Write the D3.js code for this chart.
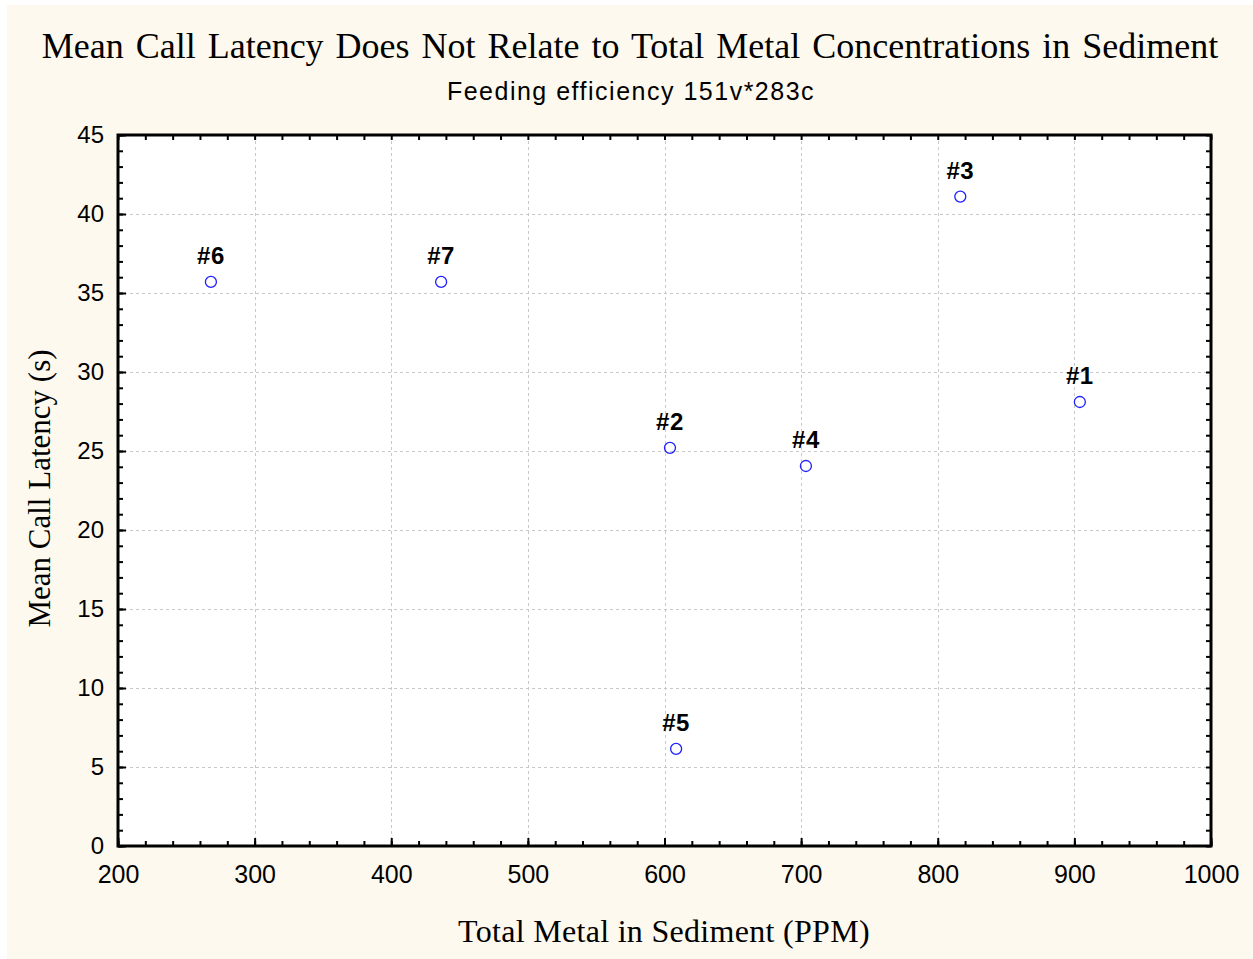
<!DOCTYPE html>
<html>
<head>
<meta charset="utf-8">
<script src="https://cdn.jsdelivr.net/npm/d3@7/dist/d3.min.js"></script>
<style>
  html, body { margin: 0; padding: 0; background: #ffffff; }
  svg { display: block; }
</style>
</head>
<body>
<script>
// Site data: total metal (PPM) vs mean call latency (s)
const siteLabels = ["#1", "#2", "#3", "#4", "#5", "#6", "#7"];
const metalPPM   = [904, 604, 816.5, 703.5, 608.5, 268, 436.5];
const latencySec = [28.1, 25.2, 41.1, 24.05, 6.15, 35.7, 35.7];

const xTicks = [200, 300, 400, 500, 600, 700, 800, 900, 1000];
const yTicks = [0, 5, 10, 15, 20, 25, 30, 35, 40, 45];

const titleText = "Mean Call Latency Does Not Relate to Total Metal Concentrations in Sediment";
const subtitleText = "Feeding efficiency 151v*283c";
const xLabel = "Total Metal in Sediment (PPM)";
const yLabel = "Mean Call Latency (s)";

const W = 1253, H = 959;
const plot = { left: 118, right: 1211, top: 135, bottom: 846 };
const sans = "Liberation Sans, Arial, sans-serif";
const serif = "Liberation Serif, Times New Roman, serif";

const svg = d3.select("body").append("svg").attr("width", W).attr("height", H);

// page background
svg.append("rect").attr("x", 7).attr("y", 5).attr("width", W - 7).attr("height", H - 5)
  .attr("fill", "#fef9ee");

const x = d3.scaleLinear().domain([200, 1000]).range([plot.left, plot.right]);
const y = d3.scaleLinear().domain([0, 45]).range([plot.bottom, plot.top]);

// plot area
svg.append("rect")
  .attr("x", plot.left).attr("y", plot.top)
  .attr("width", plot.right - plot.left).attr("height", plot.bottom - plot.top)
  .attr("fill", "#ffffff");

// dashed grid
const grid = svg.append("g").attr("stroke", "#c8c8c8").attr("stroke-width", 1)
  .attr("stroke-dasharray", "3,3");
grid.selectAll("line.gx").data(xTicks.slice(1, -1)).join("line")
  .attr("x1", d => Math.round(x(d)) + 0.5).attr("x2", d => Math.round(x(d)) + 0.5)
  .attr("y1", plot.top).attr("y2", plot.bottom);
grid.selectAll("line.gy").data(yTicks.slice(1, -1)).join("line")
  .attr("y1", d => Math.round(y(d)) + 0.5).attr("y2", d => Math.round(y(d)) + 0.5)
  .attr("x1", plot.left).attr("x2", plot.right);

// axes with inward ticks
const xMinor = d3.range(200, 1001, 20);
const yMinor = d3.range(0, 46, 1);
const axStyle = g => {
  g.select(".domain").remove();
  g.selectAll(".tick line").attr("stroke", "#000").attr("stroke-width", 2);
};

// minor ticks on all four sides
svg.append("g").attr("transform", `translate(0,${plot.bottom})`)
  .call(d3.axisTop(x).tickValues(xMinor).tickSize(5).tickFormat(""))
  .call(axStyle);
svg.append("g").attr("transform", `translate(0,${plot.top})`)
  .call(d3.axisBottom(x).tickValues(xMinor).tickSize(5).tickFormat(""))
  .call(axStyle);
svg.append("g").attr("transform", `translate(${plot.left},0)`)
  .call(d3.axisRight(y).tickValues(yMinor).tickSize(5).tickFormat(""))
  .call(axStyle);
svg.append("g").attr("transform", `translate(${plot.right},0)`)
  .call(d3.axisLeft(y).tickValues(yMinor).tickSize(5).tickFormat(""))
  .call(axStyle);

// major tick labels
const xAxis = svg.append("g").attr("transform", `translate(0,${plot.bottom})`)
  .call(d3.axisBottom(x).tickValues(xTicks).tickSize(0).tickPadding(19).tickFormat(d3.format("d")));
xAxis.select(".domain").remove();
xAxis.selectAll("text").attr("font-family", sans)
  .attr("font-size", 25).attr("fill", "#000");

const yAxis = svg.append("g").attr("transform", `translate(${plot.left},0)`)
  .call(d3.axisLeft(y).tickValues(yTicks).tickSize(0).tickPadding(14).tickFormat(d3.format("d")));
yAxis.select(".domain").remove();
yAxis.selectAll("text").attr("font-family", sans)
  .attr("font-size", 24).attr("fill", "#000");

// major tick marks (slightly longer)
svg.append("g").attr("transform", `translate(0,${plot.bottom})`)
  .call(d3.axisTop(x).tickValues(xTicks).tickSize(8).tickFormat("")).call(axStyle);
svg.append("g").attr("transform", `translate(${plot.left},0)`)
  .call(d3.axisRight(y).tickValues(yTicks).tickSize(8).tickFormat("")).call(axStyle);

// frame
svg.append("rect")
  .attr("x", plot.left).attr("y", plot.top)
  .attr("width", plot.right - plot.left).attr("height", plot.bottom - plot.top)
  .attr("fill", "none").attr("stroke", "#000").attr("stroke-width", 3);

// points
const idx = d3.range(siteLabels.length);
svg.append("g").selectAll("circle").data(idx).join("circle")
  .attr("cx", i => x(metalPPM[i])).attr("cy", i => y(latencySec[i]))
  .attr("r", 5.5).attr("fill", "none").attr("stroke", "#2020ff").attr("stroke-width", 1.3);

svg.append("g").selectAll("text").data(idx).join("text")
  .attr("x", i => x(metalPPM[i])).attr("y", i => y(latencySec[i]) - 18)
  .attr("text-anchor", "middle")
  .attr("font-family", sans)
  .attr("font-weight", "bold").attr("font-size", 24).attr("letter-spacing", 0.5)
  .attr("fill", "#000")
  .text(i => siteLabels[i]);

// titles
svg.append("text").attr("x", 630).attr("y", 58).attr("text-anchor", "middle")
  .attr("font-family", serif).attr("font-size", 36).attr("word-spacing", 3)
  .attr("fill", "#000").text(titleText);
svg.append("text").attr("x", 631).attr("y", 100).attr("text-anchor", "middle")
  .attr("font-family", sans).attr("font-size", 25)
  .attr("letter-spacing", 1.5)
  .attr("fill", "#000").text(subtitleText);

svg.append("text").attr("x", 664).attr("y", 942).attr("text-anchor", "middle")
  .attr("font-family", serif).attr("font-size", 32).attr("letter-spacing", 0.3)
  .attr("fill", "#000").text(xLabel);
svg.append("text")
  .attr("transform", `translate(50,${(plot.top + plot.bottom) / 2 - 2}) rotate(-90)`)
  .attr("text-anchor", "middle")
  .attr("font-family", serif).attr("font-size", 31)
  .attr("fill", "#000").text(yLabel);
</script>
</body>
</html>
